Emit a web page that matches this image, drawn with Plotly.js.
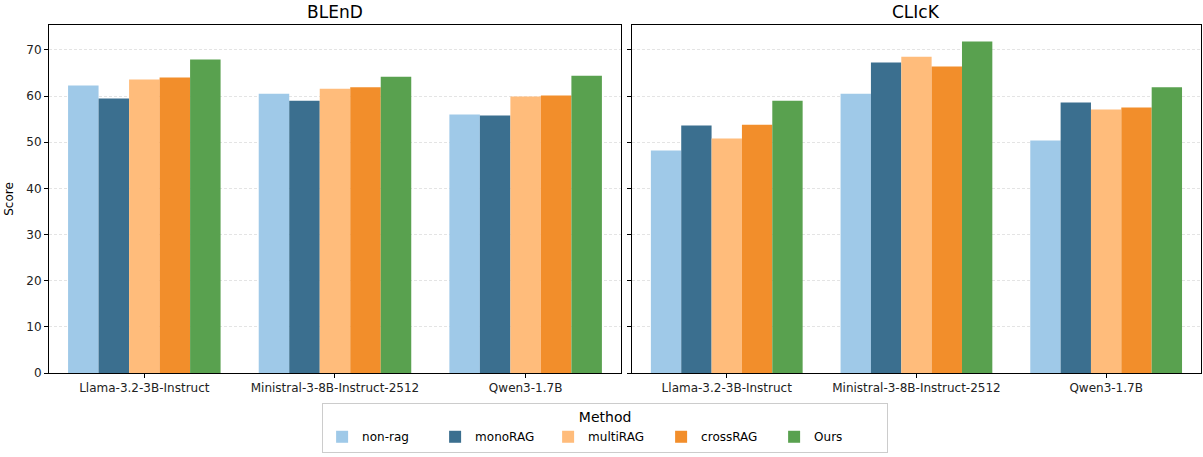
<!DOCTYPE html>
<html><head><meta charset="utf-8">
<script src="https://cdn.plot.ly/plotly-3.0.1.min.js"></script>
<style>body{margin:0;background:#fff}#c{width:1203px;height:457px}</style>
</head><body><div id="c"></div>
<script>
const models = ["Llama-3.2-3B-Instruct", "Ministral-3-8B-Instruct-2512", "Qwen3-1.7B"];
const methods = ["non-rag", "monoRAG", "multiRAG", "crossRAG", "Ours"];
const colors = ["#9fc9e8", "#3b6f8f", "#ffbc7b", "#f28e2b", "#59a14f"];
// values per method, order: models
const blend = {
  "non-rag":  [62.3, 60.5, 56.0],
  "monoRAG":  [59.5, 59.0, 55.8],
  "multiRAG": [63.6, 61.6, 59.9],
  "crossRAG": [64.0, 61.9, 60.1],
  "Ours":     [67.9, 64.2, 64.4]
};
const click = {
  "non-rag":  [48.2, 60.5, 50.4],
  "monoRAG":  [53.6, 67.3, 58.6],
  "multiRAG": [50.8, 68.5, 57.1],
  "crossRAG": [53.8, 66.4, 57.5],
  "Ours":     [59.0, 71.8, 61.9]
};
const traces = [];
methods.forEach((m, i) => {
  traces.push({type:"bar", x:models, y:blend[m], name:m, marker:{color:colors[i]},
    xaxis:"x", yaxis:"y", legendgroup:m, showlegend:true});
  traces.push({type:"bar", x:models, y:click[m], name:m, marker:{color:colors[i]},
    xaxis:"x2", yaxis:"y2", legendgroup:m, showlegend:false});
});
const axBase = {showline:true, mirror:true, linecolor:"#000", linewidth:1, ticks:"outside",
  ticklen:4, tickcolor:"#000", tickfont:{size:12, color:"#222"}};
const yBase = Object.assign({}, axBase, {range:[0,75.4], dtick:10, showgrid:true,
  gridcolor:"#dddddd", griddash:"3px,2px", gridwidth:0.8, zeroline:false});
const layout = {
  width:1203, height:457,
  margin:{l:49, r:2, t:25, b:84},
  font:{family:"DejaVu Sans, sans-serif", color:"#000"},
  paper_bgcolor:"#fff", plot_bgcolor:"#fff",
  barmode:"group", bargap:0.2, bargroupgap:0,
  xaxis:Object.assign({}, axBase, {domain:[0,0.4965], anchor:"y", showgrid:false}),
  xaxis2:Object.assign({}, axBase, {domain:[0.506,1], anchor:"y2", showgrid:false}),
  yaxis:Object.assign({}, yBase, {anchor:"x", title:{text:"Score", font:{size:12}, standoff:10}}),
  yaxis2:Object.assign({}, yBase, {anchor:"x2", matches:"y", showticklabels:false}),
  annotations:[
    {text:"BLEnD", x:0.24825, y:1, xref:"paper", yref:"paper", xanchor:"center", yanchor:"bottom",
     showarrow:false, font:{size:17}, yshift:1},
    {text:"CLIcK", x:0.753, y:1, xref:"paper", yref:"paper", xanchor:"center", yanchor:"bottom",
     showarrow:false, font:{size:17}, yshift:1}
  ],
  legend:{orientation:"h", x:0.503, xanchor:"center", xref:"container", y:0.118, yanchor:"top", yref:"container",
    bordercolor:"#cccccc", borderwidth:1, font:{size:12},
    title:{text:"Method", side:"top center", font:{size:14}},
    entrywidth:68, entrywidthmode:"pixels", tracegroupgap:0}
};
Plotly.newPlot("c", traces, layout, {displayModeBar:false, staticPlot:true});
</script></body></html>
